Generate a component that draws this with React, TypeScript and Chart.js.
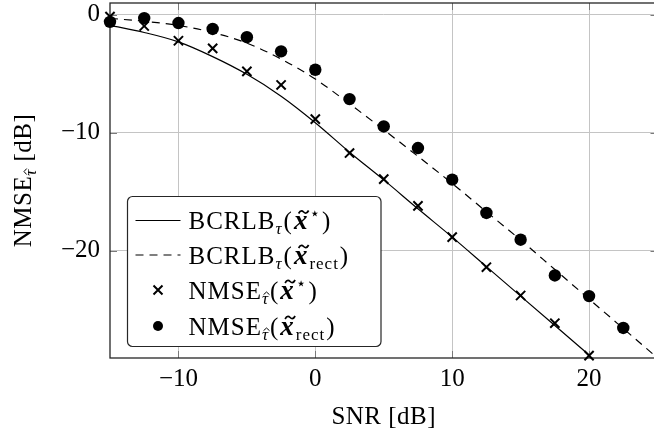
import React, { useEffect, useRef } from "react";
import { Chart, registerables } from "chart.js";

Chart.register(...registerables);

// ---- data ----
const snrCurve = [-15, -12.5, -10, -7.5, -5, -2.5, 0, 2.5, 5, 7.5, 10, 12.5, 15, 17.5, 20, 22.5, 25];
const bcrlbStar = [-0.9, -1.5, -2.3, -3.55, -5.05, -6.9, -9.15, -11.65, -14.0, -16.45, -18.85, -21.35, -23.85, -26.35, -28.85];
const bcrlbRect = [-0.3, -0.55, -0.9, -1.5, -2.4, -3.75, -5.45, -7.55, -9.75, -12.0, -14.3, -16.7, -19.1, -21.6, -24.1, -26.6, -29.1];

const snrPoints = [-15, -12.5, -10, -7.5, -5, -2.5, 0, 2.5, 5, 7.5, 10, 12.5, 15, 17.5, 20, 22.5];
const nmseStar = [-0.15, -0.95, -2.2, -2.85, -4.8, -5.95, -8.85, -11.72, -13.93, -16.2, -18.85, -21.4, -23.8, -26.15, -28.9];
const nmseRect = [-0.6, -0.28, -0.7, -1.2, -1.9, -3.1, -4.66, -7.15, -9.47, -11.3, -13.98, -16.8, -19.07, -22.1, -23.85, -26.55];

const xTicks = [-10, 0, 10, 20];
const yTicks = [-20, -10, 0];
const xRange = [-15, 25];
const yRange = [-29.1, 1];

const seriesLabels = ["BCRLBτ(x̃⋆)", "BCRLBτ(x̃rect)", "NMSEτ̂(x̃⋆)", "NMSEτ̂(x̃rect)"];

// ---- styling ----
const SERIF = "'Liberation Serif', 'Times New Roman', serif";
const MAIN = `25px ${SERIF}`;
const SUB = `17px ${SERIF}`;
const SUB_IT = `italic 17px ${SERIF}`;
const BOLD_IT = `bold italic 27px ${SERIF}`;
const SUP = `17px 'DejaVu Sans', ${SERIF}`;

type Seg = { t: string; f: string; dy?: number; acc?: "tilde" | "hat"; gap?: number };

function richWidth(ctx: CanvasRenderingContext2D, segs: Seg[]) {
  let w = 0;
  for (const s of segs) {
    ctx.font = s.f;
    w += ctx.measureText(s.t).width + (s.gap || 0);
  }
  return w;
}

function drawRich(ctx: CanvasRenderingContext2D, segs: Seg[], x: number, y: number) {
  let cx = x;
  ctx.textBaseline = "alphabetic";
  ctx.textAlign = "left";
  for (const s of segs) {
    ctx.font = s.f;
    const w = ctx.measureText(s.t).width;
    const by = y + (s.dy || 0);
    ctx.fillText(s.t, cx, by);
    if (s.acc === "tilde") {
      const mx = cx + w / 2 + 2.5;
      const my = by - 17;
      ctx.save();
      ctx.lineWidth = 1.7;
      ctx.strokeStyle = ctx.fillStyle as string;
      ctx.beginPath();
      ctx.moveTo(mx - 5, my + 1.5);
      ctx.bezierCurveTo(mx - 3, my - 2.5, mx - 1, my - 1, mx, my);
      ctx.bezierCurveTo(mx + 1, my + 1, mx + 3, my + 2.5, mx + 5, my - 1.5);
      ctx.stroke();
      ctx.restore();
    } else if (s.acc === "hat") {
      const mx = cx + w / 2 + 1;
      const my = by - 11;
      ctx.save();
      ctx.lineWidth = 1;
      ctx.strokeStyle = ctx.fillStyle as string;
      ctx.beginPath();
      ctx.moveTo(mx - 3, my + 2.2);
      ctx.lineTo(mx, my - 0.5);
      ctx.lineTo(mx + 3, my + 2.2);
      ctx.stroke();
      ctx.restore();
    }
    cx += w + (s.gap || 0);
  }
}

const xTilde: Seg = { t: "x", f: BOLD_IT, acc: "tilde", gap: 1 };
const xStar: Seg[] = [
  { t: "(", f: MAIN, gap: 1 },
  xTilde,
  { t: "\u22C6", f: SUP, dy: -10, gap: 1 },
  { t: ")", f: MAIN },
];
const xRect: Seg[] = [
  { t: "(", f: MAIN, gap: 1 },
  xTilde,
  { t: "rect", f: SUB, dy: 5, gap: 1 },
  { t: ")", f: MAIN },
];
const bcrlb: Seg[] = [
  { t: "BCRLB", f: MAIN },
  { t: "τ", f: SUB_IT, dy: 5, gap: 1 },
];
const nmse: Seg[] = [
  { t: "NMSE", f: MAIN },
  { t: "τ", f: SUB_IT, dy: 5, acc: "hat", gap: 1 },
];
const legendRich: Seg[][] = [
  [...bcrlb, ...xStar],
  [...bcrlb, ...xRect],
  [...nmse, ...xStar],
  [...nmse, ...xRect],
];

const framePlugin = {
  id: "frame",
  beforeDatasetsDraw(chart: any) {
    const { ctx, chartArea: a, scales } = chart;
    ctx.save();
    ctx.strokeStyle = "#7a7a7a";
    ctx.lineWidth = 1;
    const tl = 7;
    for (const v of xTicks) {
      const px = Math.round(scales.x.getPixelForValue(v)) + 0.5;
      ctx.beginPath();
      ctx.moveTo(px, a.bottom);
      ctx.lineTo(px, a.bottom - tl);
      ctx.moveTo(px, a.top);
      ctx.lineTo(px, a.top + tl);
      ctx.stroke();
    }
    for (const v of yTicks) {
      const py = Math.round(scales.y.getPixelForValue(v)) + 0.5;
      ctx.beginPath();
      ctx.moveTo(a.left, py);
      ctx.lineTo(a.left + tl, py);
      ctx.moveTo(a.right, py);
      ctx.lineTo(a.right - tl, py);
      ctx.stroke();
    }
    ctx.strokeStyle = "#262626";
    ctx.lineWidth = 1.3;
    ctx.strokeRect(a.left, a.top, a.right - a.left, a.bottom - a.top);
    ctx.restore();
  },
  afterDraw(chart: any) {
    const { ctx, chartArea: a } = chart;
    ctx.save();
    ctx.fillStyle = "#000";
    try {
      (ctx as any).letterSpacing = "0.5px";
    } catch (e) {}
    // axis titles
    const xt: Seg[] = [{ t: "SNR [dB]", f: MAIN }];
    const xw = richWidth(ctx, xt);
    drawRich(ctx, xt, (a.left + a.right) / 2 - xw / 2, 424);

    const yt: Seg[] = [...nmse, { t: " [dB]", f: MAIN }];
    const yw = richWidth(ctx, yt);
    ctx.save();
    ctx.translate(0, (a.top + a.bottom) / 2);
    ctx.rotate(-Math.PI / 2);
    drawRich(ctx, yt, -yw / 2, 30.5);
    ctx.restore();

    // legend box
    const lx = a.left + 17.5;
    const ly = 196.5;
    const lw = 253.5;
    const lh = 150;
    ctx.beginPath();
    (ctx as any).roundRect(lx, ly, lw, lh, 5);
    ctx.fillStyle = "#fff";
    ctx.fill();
    ctx.strokeStyle = "#262626";
    ctx.lineWidth = 1.2;
    ctx.stroke();

    try {
      (ctx as any).letterSpacing = "1px";
    } catch (e) {}
    const baselines = [229, 263.5, 298.5, 334.5];
    const sampleX0 = lx + 8;
    const sampleX1 = lx + 53;
    const sampleC = (sampleX0 + sampleX1) / 2;
    const textX = lx + 61;
    ctx.strokeStyle = "#000";
    ctx.fillStyle = "#000";
    legendRich.forEach((segs, i) => {
      const b = baselines[i];
      const cy = b - 8.5;
      ctx.save();
      if (i === 0 || i === 1) {
        ctx.lineWidth = 1.2;
        ctx.setLineDash(i === 1 ? [8, 6] : []);
        ctx.beginPath();
        ctx.moveTo(sampleX0, cy);
        ctx.lineTo(sampleX1, cy);
        ctx.stroke();
      } else if (i === 2) {
        ctx.lineWidth = 2;
        const r = 4.5;
        ctx.beginPath();
        ctx.moveTo(sampleC - r, cy - r);
        ctx.lineTo(sampleC + r, cy + r);
        ctx.moveTo(sampleC - r, cy + r);
        ctx.lineTo(sampleC + r, cy - r);
        ctx.stroke();
      } else {
        ctx.beginPath();
        ctx.arc(sampleC, cy, 5, 0, Math.PI * 2);
        ctx.fill();
      }
      ctx.restore();
      drawRich(ctx, segs, textX, b);
    });
    ctx.restore();
  },
};

const fmt = (v: number) => (v < 0 ? "\u2212" + Math.abs(v) : String(v));

const noPad = (s: any) => {
  s.paddingTop = 0;
  s.paddingBottom = 0;
  s.paddingLeft = 0;
  s.paddingRight = 0;
};

export default function App() {
  const ref = useRef<HTMLCanvasElement | null>(null);

  useEffect(() => {
    if (!ref.current) return;
    const lineStar = bcrlbStar.map((y, i) => ({ x: snrCurve[i], y }));
    const lineRect = bcrlbRect.map((y, i) => ({ x: snrCurve[i], y }));
    const ptsStar = nmseStar.map((y, i) => ({ x: snrPoints[i], y }));
    const ptsRect = nmseRect.map((y, i) => ({ x: snrPoints[i], y }));

    const chart = new Chart(ref.current, {
      type: "scatter",
      data: {
        datasets: [
          {
            label: seriesLabels[0],
            data: lineStar,
            showLine: true,
            borderColor: "#000",
            borderWidth: 1.2,
            pointRadius: 0,
            cubicInterpolationMode: "monotone",
            order: 2,
          },
          {
            label: seriesLabels[1],
            data: lineRect,
            showLine: true,
            borderColor: "#000",
            borderWidth: 1.2,
            borderDash: [8, 6],
            pointRadius: 0,
            cubicInterpolationMode: "monotone",
            order: 2,
          },
          {
            label: seriesLabels[2],
            data: ptsStar,
            showLine: false,
            pointStyle: "crossRot",
            pointRadius: 6.5,
            pointBorderWidth: 2,
            borderColor: "#000",
            backgroundColor: "#000",
            clip: false,
            order: 1,
          },
          {
            label: seriesLabels[3],
            data: ptsRect,
            showLine: false,
            pointStyle: "circle",
            pointRadius: 6.2,
            pointBorderWidth: 0,
            borderColor: "#000",
            backgroundColor: "#000",
            clip: false,
            order: 1,
          },
        ],
      },
      options: {
        responsive: false,
        animation: false,
        devicePixelRatio: 1,
        layout: { autoPadding: false, padding: { top: 3, right: 2.5, left: 0, bottom: 0 } },
        plugins: { legend: { display: false }, tooltip: { enabled: false } },
        scales: {
          x: {
            type: "linear",
            min: xRange[0],
            max: xRange[1],
            afterBuildTicks: (s: any) => {
              s.ticks = xTicks.map((v) => ({ value: v }));
            },
            afterFit: (s: any) => {
              s.height = 77;
              noPad(s);
            },
            grid: { color: "#c4c4c4", lineWidth: 1, drawTicks: false },
            border: { display: false },
            ticks: {
              color: "#000",
              font: { family: SERIF, size: 25 },
              padding: 6,
              maxRotation: 0,
              callback: (v: any) => fmt(Number(v)),
            },
          },
          y: {
            type: "linear",
            min: yRange[0],
            max: yRange[1],
            afterBuildTicks: (s: any) => {
              s.ticks = yTicks.map((v) => ({ value: v }));
            },
            afterFit: (s: any) => {
              s.width = 110;
              noPad(s);
            },
            grid: { color: "#c4c4c4", lineWidth: 1, drawTicks: false },
            border: { display: false },
            ticks: {
              color: "#000",
              font: { family: SERIF, size: 25 },
              padding: 10,
              callback: (v: any) => fmt(Number(v)),
            },
          },
        },
      },
      plugins: [framePlugin],
    } as any);
    return () => chart.destroy();
  }, []);

  return (
    <div style={{ position: "fixed", left: 0, top: 0, width: 660, height: 435, background: "#fff" }}>
      <canvas ref={ref} width={660} height={435} style={{ width: 660, height: 435, display: "block" }} />
    </div>
  );
}
